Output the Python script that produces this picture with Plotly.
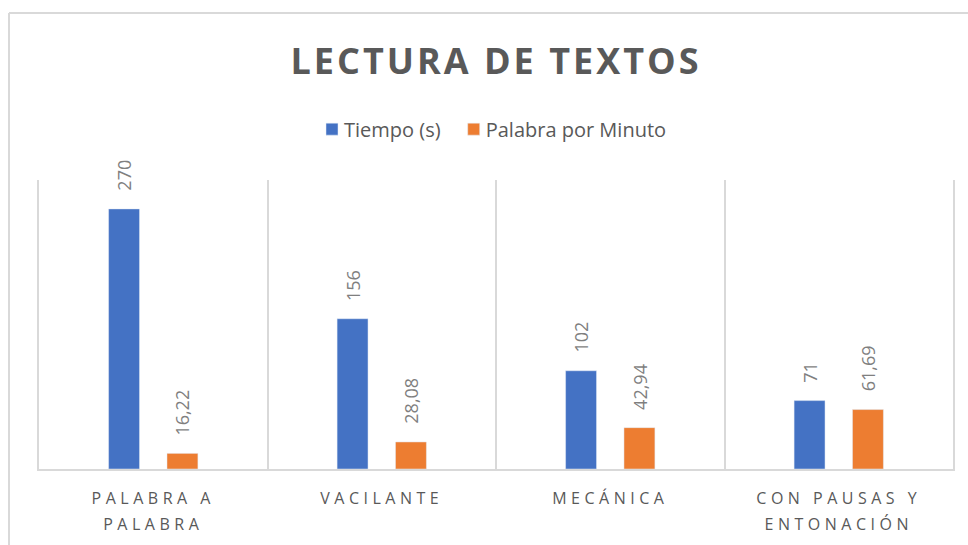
import plotly.graph_objects as go

categories = ["Palabra a palabra", "Vacilante", "Mecánica", "Con pausas y entonación"]
tick_labels = ["PALABRA A<br>PALABRA", "VACILANTE", "MECÁNICA", "CON PAUSAS Y<br>ENTONACIÓN"]
tiempo = [270, 156, 102, 71]
tiempo_labels = ["270", "156", "102", "71"]
ppm = [16.22, 28.08, 42.94, 61.69]
ppm_labels = ["16,22", "28,08", "42,94", "61,69"]

BLUE = "#4472C4"
ORANGE = "#ED7D31"
GRID = "#D9D9D9"
TXT = "#595959"
LBL = "#7F7F7F"
FONT = "Open Sans"

fig = go.Figure()
fig.add_trace(go.Bar(x=categories, y=tiempo, name="Tiempo (s)", marker_color=BLUE))
fig.add_trace(go.Bar(x=categories, y=ppm, name="Palabra por Minuto", marker_color=ORANGE))

annotations = []
for cat, v, t in zip(categories, tiempo, tiempo_labels):
    annotations.append(dict(x=cat, y=v, text=t, showarrow=False, textangle=-90,
                            xanchor="center", yanchor="bottom", xshift=-29, yshift=16,
                            font=dict(family=FONT, size=18, color=LBL)))
for cat, v, t in zip(categories, ppm, ppm_labels):
    annotations.append(dict(x=cat, y=v, text=t, showarrow=False, textangle=-90,
                            xanchor="center", yanchor="bottom", xshift=29, yshift=16,
                            font=dict(family=FONT, size=18, color=LBL)))

fig.update_layout(
    width=968, height=545,
    margin=dict(l=39, r=15, t=180, b=76),
    paper_bgcolor="white", plot_bgcolor="white",
    barmode="group", bargap=0.489, bargroupgap=0.47,
    title=dict(text="<b>LECTURA DE TEXTOS</b>", x=0.5, xref="paper", xanchor="center",
               y=1 - 61 / 545, yref="container", yanchor="middle",
               font=dict(family=FONT, size=36, color=TXT)),
    legend=dict(orientation="h", x=0.5, xanchor="center", y=1.176, yanchor="middle",
                font=dict(family=FONT, size=20, color=TXT), traceorder="normal",
                itemclick=False),
    xaxis=dict(type="category", tickvals=categories, ticktext=tick_labels,
               showgrid=True, tickson="boundaries", gridcolor=GRID, gridwidth=1.5,
               showline=True, linecolor=GRID, linewidth=1.5, ticks="",
               ticklabelstandoff=14,
               tickfont=dict(family=FONT, size=16, color=TXT)),
    yaxis=dict(range=[0, 300], showgrid=False, zeroline=False, showticklabels=False,
               showline=True, mirror=True, linecolor=GRID, linewidth=1.5, ticks=""),
    annotations=annotations,
    shapes=[
        dict(type="line", xref="paper", yref="paper", x0=-0.0328, x1=1.2, y0=1.578, y1=1.578,
             line=dict(color=GRID, width=2)),
        dict(type="line", xref="paper", yref="paper", x0=-0.0328, x1=-0.0328, y0=1.578, y1=-0.5,
             line=dict(color=GRID, width=2)),
    ],
    showlegend=True,
)

post = """
var s=document.createElement('style');
s.innerHTML='body{margin:0;padding:0;overflow:hidden;} .xtick text{letter-spacing:4.5px;} .gtitle{letter-spacing:3px;}';
document.head.appendChild(s);
document.querySelectorAll('.xtick text tspan.line').forEach(function(t){
  var d=parseFloat(t.getAttribute('dy')||'0');
  if(d>0){t.setAttribute('dy',(d*1.25)+'em');}
});
document.querySelectorAll('.legendtext').forEach(function(t){t.setAttribute('x',32);});
"""
fig.write_html("out.html", post_script=post, config={"displayModeBar": False})
